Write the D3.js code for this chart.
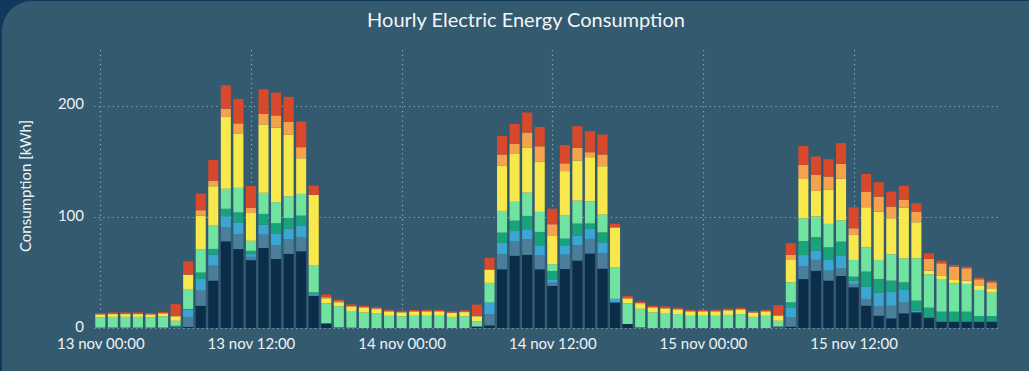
<!DOCTYPE html>
<html>
<head>
<meta charset="utf-8">
<script src="https://cdn.jsdelivr.net/npm/d3@7"></script>
<style>
  html, body { margin: 0; padding: 0; background: #0f3a5c; }
  svg { display: block; }
</style>
</head>
<body>
<div id="chart"></div>
<script>
// Chart data: hourly consumption per circuit, 13 nov 00:00 .. 15 nov 23:00
const startHour = new Date(2023, 10, 13, 0, 0);
const hourCount = 72;

const circuit1 = [0,0,0,0,0,0,0.5,1,20,42.6,78,71,61,72,62,66.7,69,29,4.2,0.5,0.3,0,0,0,0,0,0,0,0,0,1,2.4,52.8,65,65.8,52.8,37.8,53,60.6,67,53.4,23,3.6,0.5,0,0,0,0,0,0,0,0,0,0,0.5,1.2,44,51.4,42.6,46.8,36.6,20.1,11.1,8.7,13.2,14.1,9.3,5.7,5.7,5.7,5.7,5.7];
const circuit2 = [0,0,0,0,0,0,1,9,14,13.5,12.6,13.5,3,12,12.6,13,12.6,0,0,0,0,0,0,0,0,0,0,0,0,0,0.5,10,13.5,13.2,14,12.6,3,13,13.8,13.2,14,0,0,0,0,0,0,0,0,0,0,0,0,0,1,8.4,11.7,9.9,9,6.9,3,6,8.7,11.4,9.9,0,0,0,0,0,0,0];
const circuit3 = [0,0,0,0,0,0,0,6.6,10.5,10,10,10.5,2.4,9,10,9.6,10.5,1.5,0,0,0,0,0,0,0,0,0,0,0,0,0,10.5,10.5,9,9,9,3,8.4,8.7,9,9.6,3.3,0,0,0,0,0,0,0,0,0,0,0,0,0,9,9.9,8.4,9.6,11.1,2.7,11.1,12,12.6,11.1,1.5,0,0,0,0,0,0];
const circuit4 = [0.5,0.5,0.5,0.5,0.5,0.5,0.5,0.5,5.4,5,6.6,9,3,9.6,9.6,9.6,9,1.5,0,0,0,0,0,0,0,0,0,0,0,0,0,0,9,9.3,12,12,7.5,6,10.8,4.8,9,0,0,0,0,0,0,0,0,0,0,0,0,0,0,4.5,12.6,12,11.4,12.9,3.9,13.5,12.3,9.9,6.9,9,9,9,9,9,5.1,5.1];
const circuit5 = [9,9.5,9.5,9.5,9,10,4.5,17.4,21,21,18,22,9,19,19,19.5,19.5,24.6,18,19,15,14,13,11,10.5,11,11,11,10,10.5,4.5,17.7,19.5,17,21,18,6,20.7,20.7,20,16,28.5,18.6,16.8,14,13.5,12.5,11,11,11,11.8,12.5,10,11,5,18,20.4,18.6,21,19,15,21.9,17.1,23.7,21.6,38.1,30,29.4,25.5,24.9,23.4,21];
const circuit6 = [2.5,2.5,2.5,2.5,2.5,2.5,4,13.5,30,35.4,64.6,49,25,61.5,67,55.6,32,63,4.5,3.6,4,4,4,3.8,3.5,3.6,3.8,3.8,3.5,3.8,4.5,12,40.5,43,40.2,45,26,40,36,39.6,43.5,35.7,4.2,4.2,4,4,4,3.8,3.8,3.8,4,4,3.6,3.8,4.5,20.7,35.4,23,30.6,37.5,22.5,36,43.5,32.4,45.6,32.4,3.3,2.7,3.6,3,3.6,3.9];
const circuit7 = [0.5,0.5,0.5,0.5,0.5,0.5,0.5,0,5,5,7.5,9,4.8,9.6,11,11.4,10,0,1,1,0.8,0.8,0.7,0.7,0.5,0.6,0.6,0.6,0.5,0.6,0.5,0,10.2,9,13.8,14,10,7,11.4,4.5,10.5,0,1,1,0.8,0.8,0.8,0.7,0.7,0.7,0.7,0.7,0.6,0.7,0.5,3.9,12.6,14.4,12,13.5,6,14.1,13.5,10.5,6.9,9.6,10.5,11.4,11.4,11.1,6,5.4];
const circuit8 = [1,1,1,1,1,1,10.5,12,15,18.6,21,22,19.5,22,20.4,22.5,23,8.4,2.5,1.5,1.2,1.2,1,1,1,1,1,1,1,1,10,10.5,16.8,18,18,17.4,14,16.5,19.5,19,18,3.3,1.5,1.2,1.2,1.2,1,1,1,1,1,1,1,1,9,10.5,17,16.5,15.6,18.6,18.9,15.9,12.9,13.5,12.6,7.5,5.1,2.4,1.5,1.5,1.5,1.5];

const seriesKeys = ["c1", "c2", "c3", "c4", "c5", "c6", "c7", "c8"];
const seriesValues = [circuit1, circuit2, circuit3, circuit4, circuit5, circuit6, circuit7, circuit8];
const seriesColors = ["#0a2d4a", "#4b7e9a", "#3ba6d1", "#17a47a", "#70e3a0", "#f8e84b", "#f4a24c", "#d8492c"];

const yTicks = [0, 100, 200];

// Canvas
const width = 1029, height = 371;
const margin = {top: 50, right: 31, bottom: 43, left: 94};

const svg = d3.select("#chart")
    .append("svg")
    .attr("width", width)
    .attr("height", height);

// Panel with rounded corner
svg.append("rect")
    .attr("x", 2)
    .attr("y", 1)
    .attr("width", width + 40)
    .attr("height", height + 40)
    .attr("rx", 30)
    .attr("fill", "#345a6f");

// Build table for the stack
const hours = d3.timeHour.range(startHour, d3.timeHour.offset(startHour, hourCount));
const table = hours.map(function (h, i) {
    const row = {time: h};
    seriesKeys.forEach(function (k, j) { row[k] = seriesValues[j][i]; });
    return row;
});

const stacked = d3.stack().keys(seriesKeys)(table);

const x = d3.scaleTime()
    .domain([d3.timeMinute.offset(startHour, -30), d3.timeMinute.offset(hours[hours.length - 1], 30)])
    .range([margin.left, width - margin.right]);

const y = d3.scaleLinear()
    .domain([0, 250])
    .range([height - margin.bottom, margin.top]);

const color = d3.scaleOrdinal(seriesKeys, seriesColors);

const step = x(d3.timeHour.offset(startHour, 1)) - x(startHour);
const barW = step * 0.8;

// Grid
const xTicks = d3.timeHour.every(12).range(startHour, d3.timeHour.offset(startHour, hourCount));
const grid = svg.append("g")
    .attr("stroke", "rgba(225,235,240,0.55)")
    .attr("stroke-width", 1.2)
    .attr("stroke-dasharray", "1.2,3.5");

grid.selectAll("line.v")
    .data(xTicks)
    .join("line")
    .attr("class", "v")
    .attr("x1", d => Math.round(x(d)) + 0.5)
    .attr("x2", d => Math.round(x(d)) + 0.5)
    .attr("y1", margin.top)
    .attr("y2", y(0));

grid.selectAll("line.h")
    .data(yTicks)
    .join("line")
    .attr("class", "h")
    .attr("x1", margin.left)
    .attr("x2", width - margin.right)
    .attr("y1", d => Math.round(y(d)) + 0.5)
    .attr("y2", d => Math.round(y(d)) + 0.5);

// Bars
svg.append("g")
    .selectAll("g")
    .data(stacked)
    .join("g")
    .attr("fill", d => color(d.key))
    .selectAll("rect")
    .data(d => d)
    .join("rect")
    .attr("x", d => x(d.data.time) - barW / 2)
    .attr("y", d => y(d[1]))
    .attr("width", barW)
    .attr("height", d => Math.max(0, y(d[0]) - y(d[1])));

// Axes
const fmt = d3.timeFormat("%d %b %H:%M");
const xAxis = svg.append("g")
    .attr("transform", `translate(0,${y(0)})`)
    .call(d3.axisBottom(x).tickValues(xTicks).tickSize(0).tickPadding(10)
        .tickFormat(d => fmt(d).toLowerCase()));

const yAxis = svg.append("g")
    .attr("transform", `translate(${margin.left - 10},0)`)
    .call(d3.axisLeft(y).tickValues(yTicks).tickSize(0).tickPadding(0));

[xAxis, yAxis].forEach(function (a) {
    a.select(".domain").remove();
    a.selectAll("text")
        .attr("fill", "#eef3f6")
        .style("font-family", "Lato, 'Open Sans', sans-serif")
        .style("font-size", "15px");
});
yAxis.selectAll("text").attr("dy", "0.22em");

// Title and axis label
svg.append("text")
    .attr("x", 526)
    .attr("y", 27)
    .attr("text-anchor", "middle")
    .attr("fill", "#f2f6f8")
    .style("font-family", "Lato, 'Open Sans', sans-serif")
    .style("font-size", "20px")
    .text("Hourly Electric Energy Consumption");

svg.append("text")
    .attr("transform", `translate(31,${(margin.top + y(0)) / 2 - 3}) rotate(-90)`)
    .attr("text-anchor", "middle")
    .attr("fill", "#eef3f6")
    .style("font-family", "Lato, 'Open Sans', sans-serif")
    .style("font-size", "15px")
    .text("Consumption [kWh]");
</script>
</body>
</html>
